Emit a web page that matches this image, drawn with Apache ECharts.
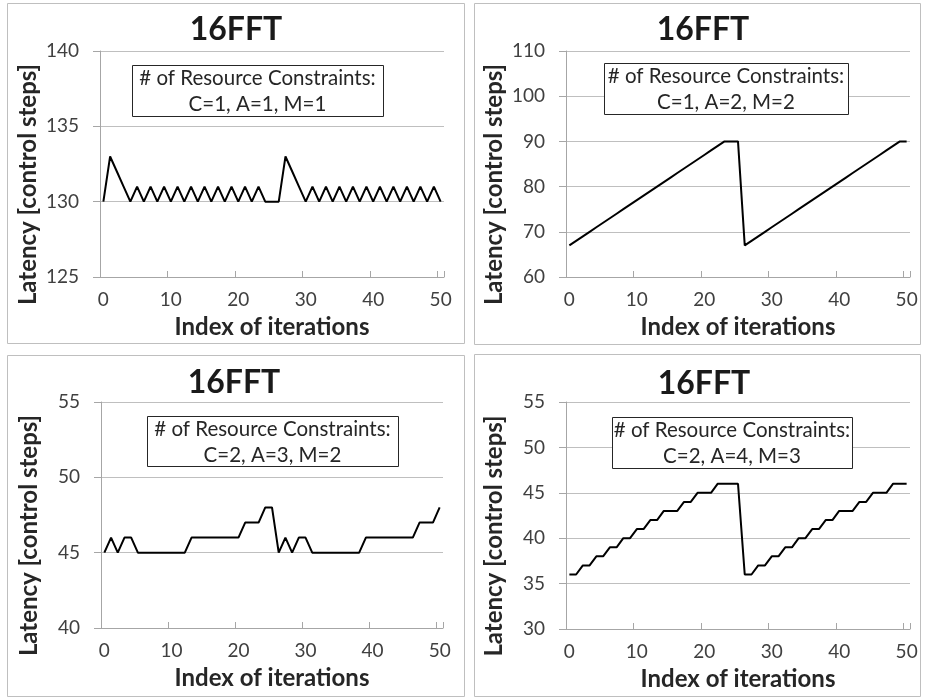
<!DOCTYPE html>
<html>
<head>
<meta charset="utf-8">
<script src="https://cdn.jsdelivr.net/npm/echarts@6/dist/echarts.min.js"></script>
<style>
  html, body { margin: 0; padding: 0; background: #fff; }
  #chart { width: 925px; height: 698px; }
</style>
</head>
<body>
<div id="chart"></div>
<script>
// Iteration index (category axis 0..50)
const iterations = [];
for (let i = 0; i <= 50; i++) iterations.push(String(i));

// Latency per iteration for each resource configuration
const latencyC1A1M1 = [130,133,132,131,130,131,130,131,130,131,130,131,130,131,130,131,130,131,130,131,130,131,130,131,130,130,130,133,132,131,130,131,130,131,130,131,130,131,130,131,130,131,130,131,130,131,130,131,130,131,130];
const latencyC1A2M2 = [67,68,69,70,71,72,73,74,75,76,77,78,79,80,81,82,83,84,85,86,87,88,89,90,90,90,67,68,69,70,71,72,73,74,75,76,77,78,79,80,81,82,83,84,85,86,87,88,89,90,90];
const latencyC2A3M2 = [45,46,45,46,46,45,45,45,45,45,45,45,45,46,46,46,46,46,46,46,46,47,47,47,48,48,45,46,45,46,46,45,45,45,45,45,45,45,45,46,46,46,46,46,46,46,46,47,47,47,48];
const latencyC2A4M3 = [36,36,37,37,38,38,39,39,40,40,41,41,42,42,43,43,43,44,44,45,45,45,46,46,46,46,36,36,37,37,38,38,39,39,40,40,41,41,42,42,43,43,43,44,44,45,45,45,46,46,46];

const panelTitles = ['16FFT', '16FFT', '16FFT', '16FFT'];
const constraintLabels = ['C=1, A=1, M=1', 'C=1, A=2, M=2', 'C=2, A=3, M=2', 'C=2, A=4, M=3'];
const yRanges = [[125, 140, 5], [60, 110, 10], [40, 55, 5], [30, 55, 5]];
const seriesData = [latencyC1A1M1, latencyC1A2M2, latencyC2A3M2, latencyC2A4M3];

const FONT = 'Lato, "Open Sans", sans-serif';

// Layout of the four panels
const grids = [
  { left: 100, top: 51, width: 344, height: 226 },
  { left: 566, top: 51, width: 344, height: 226 },
  { left: 101, top: 402, width: 342, height: 226 },
  { left: 566, top: 402, width: 344, height: 227 }
];
const frames = [
  { x: 7, y: 3, w: 457, h: 340 },
  { x: 474, y: 3, w: 446, h: 341 },
  { x: 7, y: 355, w: 457, h: 341 },
  { x: 474, y: 354, w: 446, h: 342 }
];
const titlePos = [[236, 14], [703, 14], [234, 367], [704, 368]];
const boxes = [
  { x: 132, y: 65, w: 251, h: 51 },
  { x: 604, y: 63, w: 244, h: 51 },
  { x: 147, y: 416, w: 251, h: 50 },
  { x: 612, y: 417, w: 240, h: 51 }
];

const xAxes = [], yAxes = [], series = [], titles = [], graphics = [];

frames.forEach(f => {
  graphics.push({
    type: 'rect', z: 0, silent: true,
    shape: { x: f.x + 0.5, y: f.y + 0.5, width: f.w, height: f.h },
    style: { fill: null, stroke: '#bfbfbf', lineWidth: 1 }
  });
});

for (let k = 0; k < 4; k++) {
  const [ymin, ymax, step] = yRanges[k];
  xAxes.push({
    type: 'category', gridIndex: k, data: iterations, boundaryGap: true,
    axisLine: { show: true, lineStyle: { color: '#a6a6a6', width: 1 } },
    axisTick: { show: true, interval: 9, inside: true, length: 6, lineStyle: { color: '#a6a6a6' } },
    axisLabel: { interval: 9, margin: 13, fontSize: 19, color: '#404040', fontFamily: FONT },
    splitLine: { show: false },
    name: 'Index of iterations', nameLocation: 'middle', nameGap: 38,
    nameTextStyle: { fontSize: 24, fontWeight: 'bold', color: '#262626', fontFamily: FONT }
  });
  yAxes.push({
    type: 'value', gridIndex: k, min: ymin, max: ymax, interval: step,
    axisLine: { show: true, lineStyle: { color: '#a6a6a6', width: 1 } },
    axisTick: { show: true, inside: false, length: 7, lineStyle: { color: '#a6a6a6' } },
    axisLabel: { margin: 21, fontSize: 19, color: '#404040', fontFamily: FONT },
    splitLine: { show: true, lineStyle: { color: '#bfbfbf', width: 1 } },
    name: 'Latency [control steps]', nameLocation: 'middle', nameRotate: 90, nameGap: 60,
    nameTextStyle: {
      fontSize: 24, fontWeight: 'bold', color: '#262626', fontFamily: FONT,
      padding: [0, 41, 0, 0]
    }
  });
  series.push({
    type: 'line', xAxisIndex: k, yAxisIndex: k, data: seriesData[k],
    showSymbol: false, symbol: 'none', animation: false,
    lineStyle: { color: '#000', width: 2 }
  });
  titles.push({
    text: panelTitles[k], left: titlePos[k][0], top: titlePos[k][1], textAlign: 'center',
    padding: 0,
    textStyle: { fontSize: 32, fontWeight: 'bold', color: '#1a1a1a', fontFamily: FONT }
  });
  const b = boxes[k];
  graphics.push({
    type: 'group', z: 100,
    children: [
      {
        type: 'rect', z: 100,
        shape: { x: b.x + 0.5, y: b.y + 0.5, width: b.w, height: b.h },
        style: { fill: '#fff', stroke: '#262626', lineWidth: 1 }
      },
      {
        type: 'text', z: 101,
        x: b.x + b.w / 2, y: b.y + b.h / 2 + 1,
        style: {
          text: '# of Resource Constraints:\n' + constraintLabels[k],
          textAlign: 'center', textVerticalAlign: 'middle',
          fontSize: 20.5, lineHeight: 26, fill: '#262626', fontFamily: FONT
        }
      }
    ]
  });
}

const chart = echarts.init(document.getElementById('chart'), null, { renderer: 'canvas' });
chart.setOption({
  animation: false,
  backgroundColor: '#fff',
  title: titles,
  grid: grids,
  xAxis: xAxes,
  yAxis: yAxes,
  series: series,
  graphic: graphics
});
</script>
</body>
</html>
